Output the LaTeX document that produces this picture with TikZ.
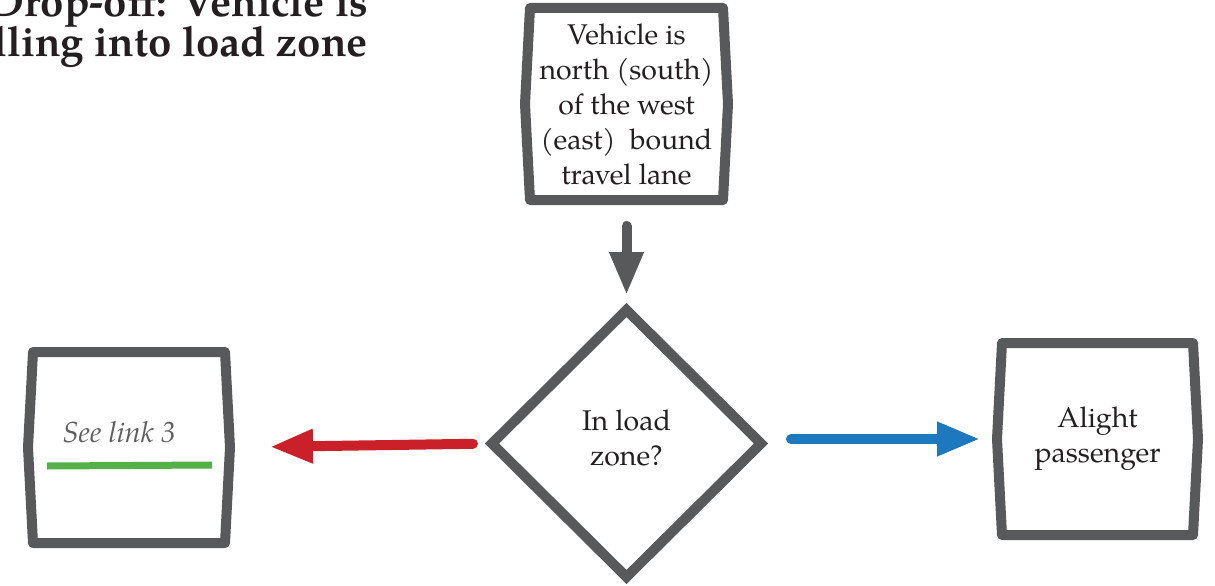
\documentclass[tikz,border=0pt]{standalone}
\usepackage{fontspec}
\setmainfont{TeX Gyre Pagella}
\usetikzlibrary{shapes.geometric,arrows.meta,calc}
\definecolor{boxgray}{RGB}{88,89,91}
\definecolor{arrred}{RGB}{201,32,42}
\definecolor{arrblue}{RGB}{30,120,190}
\definecolor{linkgreen}{RGB}{84,176,72}
\definecolor{txtgray}{RGB}{95,95,95}
\definecolor{txtdark}{RGB}{35,31,32}
\tikzset{
  frame/.style={rectangle, draw=none, inner sep=0pt, outer sep=0pt, align=center,
    font=\fontsize{28.5}{35}\selectfont, text=txtdark},
  boxline/.style={draw=boxgray, line width=10pt, line join=round},
  decision/.style={diamond, draw=boxgray, line width=10pt, inner sep=0pt, outer sep=0pt,
    minimum width=269pt, minimum height=267pt, line join=miter},
  lbl/.style={align=center, inner sep=0pt, font=\fontsize{28.5}{35}\selectfont, text=txtdark},
  flowarrow/.style={line width=10pt, line cap=round, -{Triangle[length=43pt,width=32pt]}},
  titletext/.style={inner sep=0pt, anchor=base east, font=\fontsize{42}{40}\bfseries\selectfont, text=txtdark}
}
\begin{document}
\begin{tikzpicture}[x=1pt,y=-1pt]
\useasboundingbox (0,0) rectangle (1215,586);
\clip (0,0) rectangle (1215,586);
\fill[white] (0,0) rectangle (1215,586);

% title (cut off by the page edge, as in the reference)
\node[titletext] (t1) at (368,17) {Drop-off: Vehicle is};
\node[titletext] (t2) at (368,57) {lling into load zone};

% frames
\node[frame, minimum width=193pt, minimum height=192pt] (top) at (626.5,104)
  {Vehicle is\\north (south)\\of the west\\(east)~ bound\\travel lane};
\node[frame, minimum width=192pt, minimum height=191pt] (lb) at (129,447.5) {};
\node[frame, minimum width=191pt, minimum height=192pt] (rb) at (1097.5,439)
  {Alight\\passenger};

\foreach \f in {top,lb,rb}{
  \draw[boxline] (\f.north west) -- (\f.north east) -- ([xshift=5pt]\f.east)
    -- (\f.south east) -- (\f.south west) -- ([xshift=-5pt]\f.west) -- cycle;
}

% decision
\node[decision] (dia) at (626.5,443.5) {};
\node[lbl] (dialbl) at ($(dia.center)+(0,-6)$) {In load\\zone?};

% see link
\node[lbl, text=txtgray, font=\fontsize{29}{34}\itshape\selectfont] (see) at (119,432) {See link 3};
\draw[linkgreen, line width=7pt] ($(lb.center)+(-82,18.5)$) -- ($(lb.center)+(83,17.5)$);

% connectors
\draw[flowarrow, boxgray, shorten <=26pt, shorten >=15pt] (top.south) -- (dia.north);
\draw[flowarrow, arrred, shorten <=19pt, shorten >=45pt] (dia.west) -- (lb.east);
\draw[flowarrow, arrblue, shorten <=30pt, shorten >=22pt] (dia.east |- rb.west) -- (rb.west);
\end{tikzpicture}
\end{document}
